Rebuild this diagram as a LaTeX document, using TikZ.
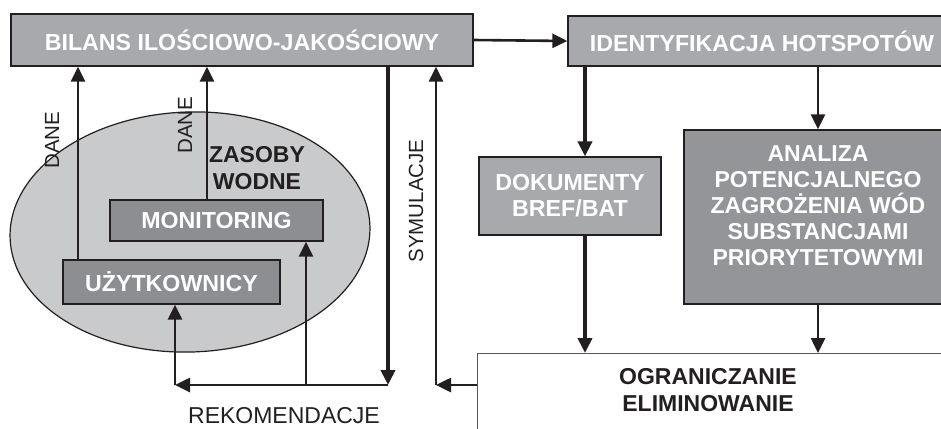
\documentclass[tikz,border=0pt]{standalone}
\usepackage{fontspec}
\setmainfont{Liberation Sans}
\usetikzlibrary{arrows.meta,calc,shapes.geometric}
\definecolor{boxlight}{HTML}{A7A9AC}
\definecolor{boxdark}{HTML}{8C8E91}
\definecolor{boxmid}{HTML}{939598}
\definecolor{ellfill}{HTML}{C9CACC}
\definecolor{ink}{HTML}{231F20}
\begin{document}
\begin{tikzpicture}[x=1pt,y=-1pt,
  box/.style={draw=ink, line width=1.3pt, inner sep=0pt, text=white,
    font=\fontsize{23.2}{26}\selectfont\bfseries, align=center},
  lbox/.style={box, fill=boxlight},
  dbox/.style={box, fill=boxdark},
  whitebold/.style={inner sep=0pt, text=white, align=center,
    font=\fontsize{23}{26}\selectfont\bfseries},
  blackbold/.style={inner sep=0pt, text=ink, align=center,
    font=\fontsize{23}{26.5}\selectfont\bfseries},
  lbl/.style={inner sep=0pt, text=ink, font=\fontsize{20.5}{24}\selectfont},
  arr/.style={draw=ink, line width=2.6pt, -{Triangle[length=15pt,width=14pt]}},
  tarr/.style={arr, line width=4.5pt}]
\clip (0,0) rectangle (941,428);
% ellipse (water resources)
\node[draw=ink, line width=1.2pt, fill=ellfill, ellipse, inner sep=0pt,
  minimum width=360pt, minimum height=240pt, rotate=2] (ell) at (190,232) {};
% boxes
\node[lbox, minimum width=462pt, minimum height=52pt] (bil) at (242,40) {BILANS ILOŚCIOWO-JAKOŚCIOWY};
\node[lbox, minimum width=388pt, minimum height=50pt] (ide) at (762,41) {IDENTYFIKACJA HOTSPOTÓW};
\node[lbox, minimum width=182pt, minimum height=78pt] (dok) at (570,196) {DOKUMENTY\\BREF/BAT};
\node[box, fill=boxmid, minimum width=268pt, minimum height=174pt] (ana) at (818,217) {};
\node[whitebold] (anat) at (818,206) {ANALIZA\\POTENCJALNEGO\\ZAGROŻENIA WÓD\\SUBSTANCJAMI\\PRIORYTETOWYMI};
\node[dbox, minimum width=213pt, minimum height=41pt] (mon) at (216.5,220.5) {MONITORING};
\node[dbox, minimum width=217pt, minimum height=44pt] (uzy) at (171.5,282) {UŻYTKOWNICY};
\node[draw=ink!75, line width=1pt, fill=white, anchor=north west, inner sep=0pt,
  minimum width=500pt, minimum height=100pt] (ogr) at (477,353) {};
\node[blackbold] (ogrt) at (708,390) {OGRANICZANIE\\ELIMINOWANIE};
% labels
\node[blackbold] (zas) at (257,168) {ZASOBY\\WODNE};
\node[lbl, rotate=90] (dane1) at (52,140) {DANE};
\node[lbl, rotate=90] (dane2) at (185,125) {DANE};
\node[lbl, rotate=90] (sym) at (416,201) {SYMULACJE};
\node[lbl, font=\fontsize{23}{26}\selectfont] (rek) at (284,416) {REKOMENDACJE};
% helper coordinates
\coordinate (xd1) at (78,0);
\coordinate (xd2) at (207,0);
\coordinate (xk) at (585,0);
\coordinate (r0) at (175,385);
\coordinate (r2) at (306,385);
\coordinate (r1) at (388,385);
\coordinate (s0) at (436,385);
% connectors
\draw[arr] (uzy.north -| xd1) -- (bil.south -| xd1);
\draw[arr] (mon.north -| xd2) -- (bil.south -| xd2);
\draw[tarr] (bil.south -| r1) -- (r1);
\draw[arr] (r1) -- (r0);
\draw[arr] (r0) -- (uzy.south -| r0);
\draw[arr] (r2) -- (mon.south -| r2);
\draw[arr] (ogr.west |- s0) -- (s0);
\draw[arr] (s0) -- (bil.south -| s0);
\draw[arr] (bil.east) -- (ide.west);
\draw[tarr] (ide.south -| xk) -- (dok.north -| xk);
\draw[tarr] (dok.south -| xk) -- (ogr.north -| xk);
\draw[arr] (ide.south -| ana.north) -- (ana.north);
\draw[arr] (ana.south) -- (ogr.north -| ana.south);
\end{tikzpicture}
\end{document}
